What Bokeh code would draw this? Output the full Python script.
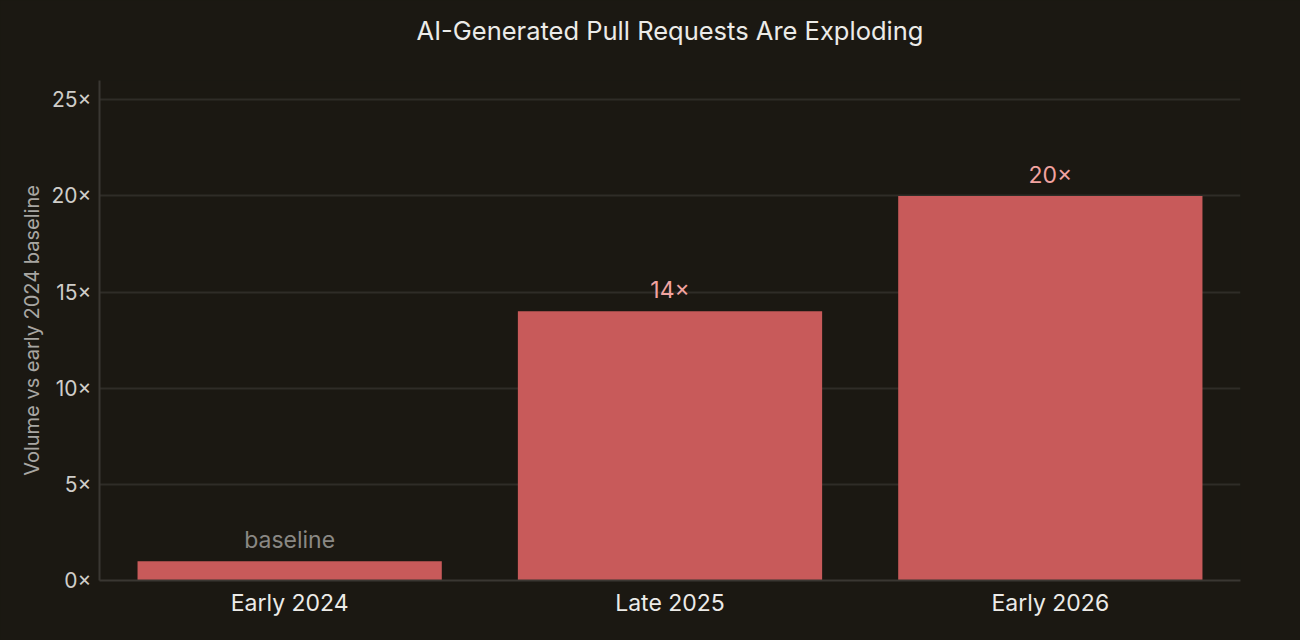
from bokeh.plotting import figure
from bokeh.models import ColumnDataSource, PrintfTickFormatter, FixedTicker, Range1d, Title
from bokeh.core.properties import value
from bokeh.embed import file_html
from bokeh.resources import INLINE

periods = ["Early 2024", "Late 2025", "Early 2026"]
volume = [1, 14, 20]
bar_labels = ["baseline", "14×", "20×"]
label_colors = ["#8a8884", "#f2a3a0", "#f2a3a0"]
y_ticks = [0, 5, 10, 15, 20, 25]

BG = "#1b1812"
FONT = "Inter"

source = ColumnDataSource(data=dict(
    period=periods, volume=volume, label=bar_labels, label_color=label_colors,
))

p = figure(x_range=periods, y_range=Range1d(0, 26),
           frame_width=1141, frame_height=500,
           min_border_left=99, min_border_right=60, min_border_top=80, min_border_bottom=60,
           output_backend="svg", toolbar_location=None)
p.x_range.range_padding = 0

p.background_fill_color = BG
p.border_fill_color = BG
p.outline_line_color = None

# empty spacer title keeps the real title well above the frame
p.add_layout(Title(text=" ", text_font_size="20px", standoff=11), "above")
p.add_layout(Title(text="AI-Generated Pull Requests Are Exploding", align="center",
                   text_color="#ecebe8", text_font=FONT, text_font_size="25.5px",
                   text_font_style="normal", standoff=0), "above")

p.vbar(x="period", top="volume", width=0.8, source=source,
       fill_color="#c85a5a", line_color=None)

p.text(x="period", y="volume", text="label", source=source,
       text_color="label_color", text_align="center", text_baseline="bottom",
       y_offset=-7, text_font=value(FONT), text_font_size="23px")

p.xgrid.grid_line_color = None
p.ygrid.grid_line_color = "#2f2c27"
p.ygrid.grid_line_width = 2

p.yaxis.ticker = FixedTicker(ticks=y_ticks)
p.yaxis.formatter = PrintfTickFormatter(format="%d×")
p.yaxis.axis_label = "Volume vs early 2024 baseline"
p.yaxis.axis_label_text_color = "#a8a6a2"
p.yaxis.axis_label_text_font = FONT
p.yaxis.axis_label_text_font_size = "20px"
p.yaxis.axis_label_text_font_style = "normal"

for ax in (p.xaxis, p.yaxis):
    ax.axis_line_color = "#3a3732"
    ax.axis_line_width = 2
    ax.major_tick_line_color = None
    ax.minor_tick_line_color = None
    ax.major_label_text_font = FONT

p.yaxis.major_label_text_color = "#cfcdc9"
p.yaxis.major_label_text_font_size = "21px"
p.yaxis.major_label_standoff = 2
p.xaxis.major_label_text_color = "#ecebe8"
p.xaxis.major_label_text_font_size = "23px"
p.xaxis.major_label_standoff = 2

html = file_html(p, INLINE)
html = html.replace("<head>", "<head><style>body{background:%s;margin:0;}</style>" % BG, 1)
open("out.html", "w").write(html)
